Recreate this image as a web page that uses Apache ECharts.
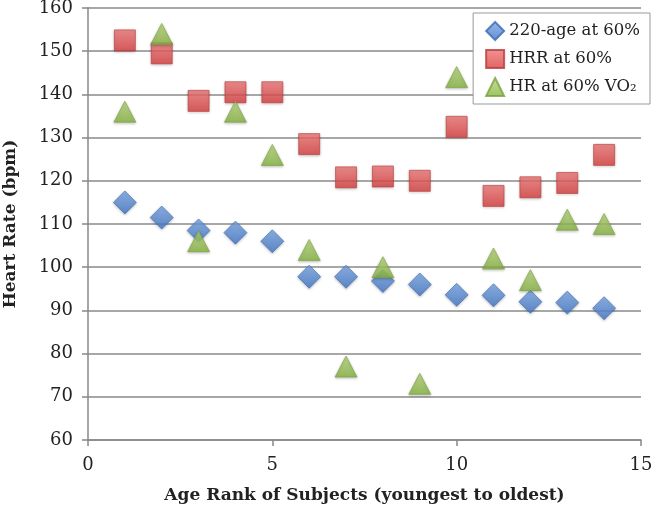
<!DOCTYPE html>
<html><head><meta charset="utf-8">
<script src="https://cdn.jsdelivr.net/npm/echarts@6/dist/echarts.min.js"></script>
<style>html,body{margin:0;padding:0;background:#fff}#c{width:656px;height:509px}</style>
</head><body><div id="c"></div>
<script>
const ranks = [1,2,3,4,5,6,7,8,9,10,11,12,13,14];
const age220 = [115,111.5,108.5,108,106,97.8,97.8,96.8,96,93.6,93.5,92,91.8,90.5];
const hrr = [152.5,149.5,138.5,140.5,140.5,128.5,120.8,121,120,132.5,116.5,118.5,119.5,126];
const vo2 = [136,154,106,136,126,104,77,100,73,144,102,97,111,110];
const names = ['220-age at 60%','HRR at 60%','HR at 60% VO₂'];
const font = 'DejaVu Serif';
const pair = a => ranks.map((r,i)=>[r,a[i]]);
const grad = (c1,c2) => new echarts.graphic.LinearGradient(0,0,0,1,[{offset:0,color:c1},{offset:1,color:c2}]);
const chart = echarts.init(document.getElementById('c'));
chart.setOption({
  animation:false,
  grid:{left:88,right:15,top:8,bottom:69,outerBoundsMode:'none',containLabel:false},
  legend:{
    orient:'vertical', right:6, top:13, width:160,
    backgroundColor:'#fff', borderColor:'#999', borderWidth:1,
    padding:[8,10,7,12], itemGap:8, itemWidth:18, itemHeight:18,
    textStyle:{fontFamily:font,fontSize:16.5,color:'#222'},
    data:names
  },
  xAxis:{
    type:'value', min:0, max:15, interval:5,
    name:'Age Rank of Subjects (youngest to oldest)', nameLocation:'middle', nameGap:47,
    nameTextStyle:{fontFamily:font,fontSize:17,fontWeight:'bold',color:'#222'},
    axisLine:{show:true,lineStyle:{color:'#888',width:1.5}},
    axisTick:{show:true,length:6,lineStyle:{color:'#888',width:1.5}},
    axisLabel:{fontFamily:font,fontSize:18,color:'#222',margin:16},
    splitLine:{show:false}
  },
  yAxis:{
    type:'value', min:60, max:160, interval:10,
    name:'Heart Rate (bpm)', nameLocation:'middle', nameGap:69,
    nameTextStyle:{fontFamily:font,fontSize:17,fontWeight:'bold',color:'#222'},
    axisLine:{show:true,lineStyle:{color:'#888',width:1.5}},
    axisTick:{show:true,length:6,lineStyle:{color:'#888',width:1.5}},
    axisLabel:{fontFamily:font,fontSize:18,color:'#222',margin:15},
    splitLine:{show:true,lineStyle:{color:'#8a8a8a',width:1.5}}
  },
  series:[
    {name:names[0],type:'scatter',symbol:'diamond',symbolSize:[23,23],data:pair(age220),
     itemStyle:{color:grad('#7aa7e6','#3f74c4'),borderColor:'#3a6cb5',borderWidth:0.8,shadowColor:'rgba(0,0,0,0.3)',shadowBlur:3,shadowOffsetY:1},z:3},
    {name:names[1],type:'scatter',symbol:'rect',symbolSize:[21,21],data:pair(hrr),
     itemStyle:{color:grad('#f07878','#d83c3c'),borderColor:'#b93a38',borderWidth:0.8,shadowColor:'rgba(0,0,0,0.3)',shadowBlur:3,shadowOffsetY:1},z:2},
    {name:names[2],type:'scatter',symbol:'triangle',symbolSize:[22,21],data:pair(vo2),
     itemStyle:{color:grad('#b7d77a','#86b340'),borderColor:'#79a33a',borderWidth:0.8,shadowColor:'rgba(0,0,0,0.3)',shadowBlur:3,shadowOffsetY:1},z:4}
  ]
});
</script></body></html>
